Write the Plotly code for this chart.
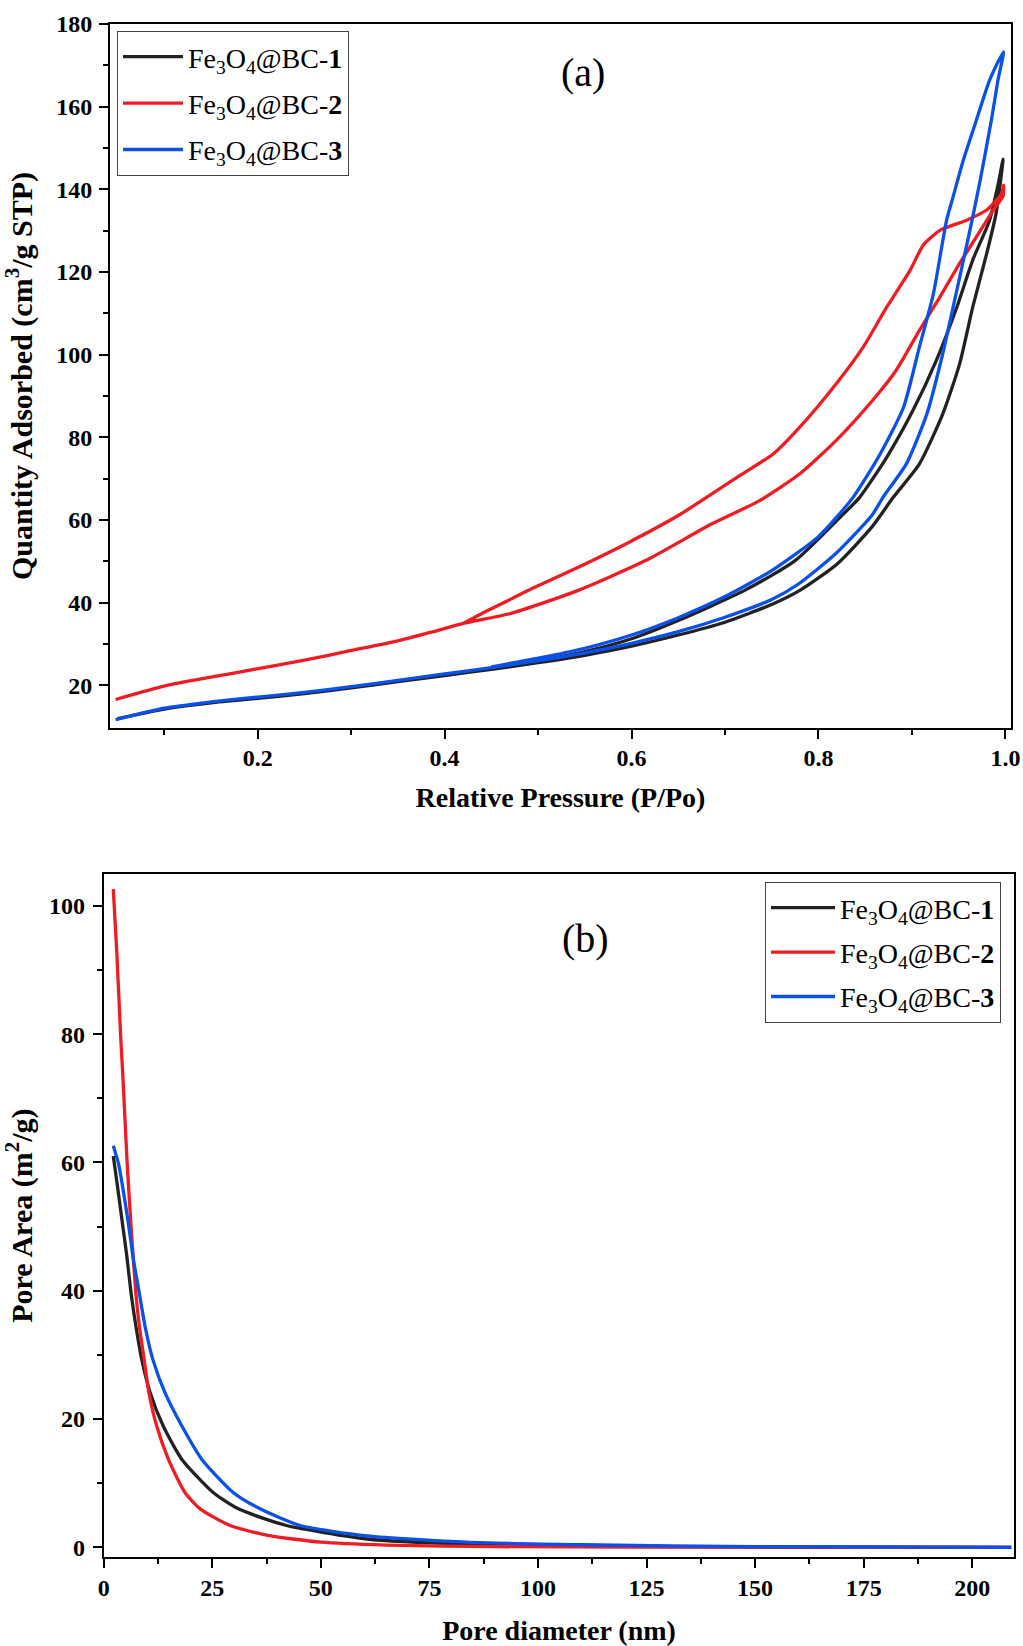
import plotly.graph_objects as go

# ---------------- (a) N2 adsorption / desorption isotherms ----------------
# Fe3O4@BC-1
bc1_ads_p = [0.050, 0.100, 0.150, 0.200, 0.250, 0.300, 0.350, 0.400, 0.450, 0.500,
             0.550, 0.600, 0.650, 0.700, 0.750, 0.780, 0.820, 0.857, 0.880, 0.908,
             0.933, 0.951, 0.965, 0.980, 0.990, 0.9975]
bc1_ads_q = [12.0, 14.3, 15.8, 16.9, 18.0, 19.4, 20.9, 22.4, 23.9, 25.5,
             27.3, 29.5, 32.2, 35.3, 39.6, 43.0, 49.4, 58.3, 65.5, 73.6,
             85.7, 97.8, 111.5, 124.5, 134.2, 147.3]
bc1_des_p = [0.992, 0.983, 0.965, 0.948, 0.926, 0.901, 0.873, 0.844, 0.825, 0.775,
             0.721, 0.650, 0.600, 0.550, 0.500, 0.450]
bc1_des_q = [141.0, 132.5, 122.9, 111.5, 98.6, 86.5, 75.2, 65.5, 61.1, 50.2,
             43.0, 35.7, 31.3, 28.2, 26.0, 24.2]

# Fe3O4@BC-2
bc2_ads_p = [0.048, 0.103, 0.150, 0.199, 0.250, 0.299, 0.350, 0.388, 0.420, 0.472,
             0.543, 0.615, 0.686, 0.737, 0.780, 0.819, 0.858, 0.883, 0.908, 0.930,
             0.951, 0.969, 0.987, 0.9975]
bc2_ads_q = [16.6, 20.0, 22.0, 24.0, 26.1, 28.4, 30.8, 33.0, 35.0, 37.5,
             43.0, 50.2, 59.1, 64.7, 71.2, 79.3, 89.0, 96.2, 105.9, 114.0,
             122.1, 128.5, 135.0, 138.4]
bc2_des_p = [0.998, 0.996, 0.980, 0.958, 0.930, 0.912, 0.898, 0.873, 0.848, 0.819,
             0.780, 0.7515, 0.716, 0.650, 0.597, 0.543, 0.493, 0.472, 0.445, 0.420]
bc2_des_q = [141.0, 139.0, 135.0, 132.5, 130.1, 126.5, 120.4, 111.5, 101.9, 93.0,
             82.5, 76.0, 70.8, 61.1, 54.6, 48.6, 43.4, 41.0, 38.0, 35.0]

# Fe3O4@BC-3
bc3_ads_p = [0.048, 0.100, 0.150, 0.200, 0.250, 0.300, 0.350, 0.400, 0.450, 0.500,
             0.550, 0.600, 0.650, 0.700, 0.750, 0.779, 0.818, 0.857, 0.869, 0.894,
             0.916, 0.933, 0.948, 0.962, 0.973, 0.985, 0.992, 0.998]
bc3_ads_q = [11.7, 14.5, 16.0, 17.2, 18.3, 19.7, 21.2, 22.8, 24.3, 26.0,
             27.9, 30.2, 33.0, 36.5, 40.8, 44.6, 51.8, 61.1, 65.5, 73.6,
             85.7, 100.3, 115.6, 130.1, 142.2, 156.8, 166.4, 173.3]
bc3_des_p = [0.983, 0.969, 0.955, 0.944, 0.937, 0.923, 0.908, 0.891, 0.866, 0.837,
             0.800, 0.750, 0.700, 0.650, 0.600, 0.550, 0.500, 0.450]
bc3_des_q = [166.4, 156.8, 147.1, 138.2, 132.5, 114.8, 101.9, 87.3, 76.0, 65.5,
             56.0, 47.8, 41.5, 36.4, 32.2, 29.0, 26.6, 24.5]

# ---------------- (b) BJH pore area distribution ----------------
bc1_d = [2.2, 3.0, 4.3, 5.3, 6.3, 7.4, 8.75, 10.7, 13.7, 18.0, 25.2, 31.0, 42.1, 60.6,
         83.6, 110, 150, 209]
bc1_area = [61.0, 57.1, 50.5, 45.5, 39.6, 34.5, 29.3, 24.1, 18.9, 13.7, 8.55, 6.0, 3.4,
            1.3, 0.5, 0.2, 0.05, 0.0]

bc2_d = [2.2, 3.0, 3.9, 4.5, 5.4, 6.3, 7.4, 8.2, 9.3, 10.4, 12.2, 14.9, 18.7, 22.2, 29.1,
         37.5, 50.0, 65.0, 90, 150, 209]
bc2_area = [102.6, 92.9, 79.7, 72.2, 59.8, 50.0, 39.6, 34.5, 29.3, 24.1, 18.9, 13.7, 8.55,
            6.0, 3.4, 1.9, 0.8, 0.35, 0.1, 0.02, 0.0]

bc3_d = [2.2, 3.4, 4.5, 5.7, 6.8, 8.2, 9.5, 11.3, 14.1, 18.0, 22.6, 29.8, 36.0, 45.2,
         60.6, 83.6, 110, 150, 209]
bc3_area = [62.6, 59.8, 55.6, 50.4, 45.0, 39.6, 34.5, 29.3, 24.1, 18.9, 13.7, 8.55, 6.0,
            3.4, 1.8, 0.8, 0.4, 0.1, 0.0]

sample_names = ["Fe<sub>3</sub>O<sub>4</sub>@BC-<b>1</b>",
                "Fe<sub>3</sub>O<sub>4</sub>@BC-<b>2</b>",
                "Fe<sub>3</sub>O<sub>4</sub>@BC-<b>3</b>"]
colors = ["#222222", "#f01c22", "#0a50ea"]

isotherms = [
    (bc1_ads_p + bc1_des_p, bc1_ads_q + bc1_des_q),
    (bc2_ads_p + bc2_des_p, bc2_ads_q + bc2_des_q),
    (bc3_ads_p + bc3_des_p, bc3_ads_q + bc3_des_q),
]
pore_areas = [(bc1_d, bc1_area), (bc2_d, bc2_area), (bc3_d, bc3_area)]

SERIF = "Liberation Serif"
LINE_W = 3.3

fig = go.Figure()
for i, ((px, qy), name, col) in enumerate(zip(isotherms, sample_names, colors)):
    fig.add_trace(go.Scatter(
        x=px, y=qy, mode="lines", name=name, legend="legend",
        legendgroup=f"a{i}",
        line=dict(color=col, width=LINE_W, shape="spline", smoothing=0.6),
        xaxis="x", yaxis="y"))
for i, ((d, a), name, col) in enumerate(zip(pore_areas, sample_names, colors)):
    fig.add_trace(go.Scatter(
        x=d, y=a, mode="lines", name=name, legend="legend2",
        legendgroup=f"b{i}",
        line=dict(color=col, width=LINE_W, shape="spline", smoothing=0.6),
        xaxis="x2", yaxis="y2"))

tick_font = dict(family=SERIF, size=24, color="black", weight="bold")
title_font = dict(family=SERIF, size=28, color="black", weight="bold")
ytitle_font = dict(family=SERIF, size=30, color="black", weight="bold")
minor_style = dict(ticks="outside", ticklen=5, tickwidth=2, tickcolor="black")


def axis_style(**kw):
    base = dict(
        showline=True, linecolor="black", linewidth=2, mirror=True,
        ticks="outside", ticklen=9, tickwidth=2, tickcolor="black",
        showgrid=False, zeroline=False, tickfont=tick_font,
        automargin=False, tickmode="array",
    )
    base.update(kw)
    return base


legend_style = dict(
    bgcolor="white", bordercolor="#444", borderwidth=1,
    font=dict(family=SERIF, size=28, color="black"),
)

fig.update_layout(
    width=1023, height=1646,
    margin=dict(l=0, r=0, t=0, b=0),
    paper_bgcolor="white", plot_bgcolor="white",
    font=dict(family=SERIF, color="black"),
    xaxis=axis_style(
        domain=[0.1075, 0.9883], anchor="y", range=[0.042, 1.006],
        tickvals=[0.2, 0.4, 0.6, 0.8, 1.0],
        ticktext=["0.2", "0.4", "0.6", "0.8", "1.0"],
        minor=dict(tickmode="array", tickvals=[0.1, 0.3, 0.5, 0.7, 0.9], **minor_style),
        ticklabelstandoff=-2,
        title=dict(text="Relative Pressure (P/Po)", font=title_font, standoff=18),
    ),
    yaxis=axis_style(
        domain=[0.5577, 0.9854], anchor="x", range=[9.7, 180],
        tickvals=[20, 40, 60, 80, 100, 120, 140, 160, 180],
        minor=dict(tickmode="array", tickvals=[30, 50, 70, 90, 110, 130, 150, 170],
                   **minor_style),
        ticklabelstandoff=2,
        title=dict(text="Quantity Adsorbed (cm<sup>3</sup>/g STP)",
                   font=ytitle_font, standoff=17),
    ),
    xaxis2=axis_style(
        domain=[0.1014, 0.9915], anchor="y2", range=[0, 209.7],
        tickvals=[0, 25, 50, 75, 100, 125, 150, 175, 200],
        minor=dict(tickmode="array",
                   tickvals=[12.5, 37.5, 62.5, 87.5, 112.5, 137.5, 162.5, 187.5],
                   **minor_style),
        ticklabelstandoff=-1,
        title=dict(text="Pore diameter (nm)", font=title_font, standoff=21),
    ),
    yaxis2=axis_style(
        domain=[0.0541, 0.4688], anchor="x2", range=[-1.5, 104.9],
        tickvals=[0, 20, 40, 60, 80, 100],
        minor=dict(tickmode="array", tickvals=[10, 30, 50, 70, 90], **minor_style),
        ticklabelstandoff=3,
        title=dict(text="Pore Area (m<sup>2</sup>/g)", font=ytitle_font, standoff=13),
    ),
    legend=dict(x=117 / 1023, y=1 - 31 / 1646, xanchor="left", yanchor="top",
                tracegroupgap=7, itemwidth=60, **legend_style),
    legend2=dict(x=1001 / 1023, y=1 - 882 / 1646, xanchor="right", yanchor="top",
                 tracegroupgap=5, itemwidth=64, **legend_style),
    annotations=[
        dict(text="(a)", x=0.570, y=1 - 72 / 1646, xref="paper", yref="paper",
             showarrow=False, xanchor="center", yanchor="middle",
             font=dict(family=SERIF, size=40, color="black")),
        dict(text="(b)", x=0.572, y=1 - 938 / 1646, xref="paper", yref="paper",
             showarrow=False, xanchor="center", yanchor="middle",
             font=dict(family=SERIF, size=40, color="black")),
    ],
)

fig.write_html("out.html")
